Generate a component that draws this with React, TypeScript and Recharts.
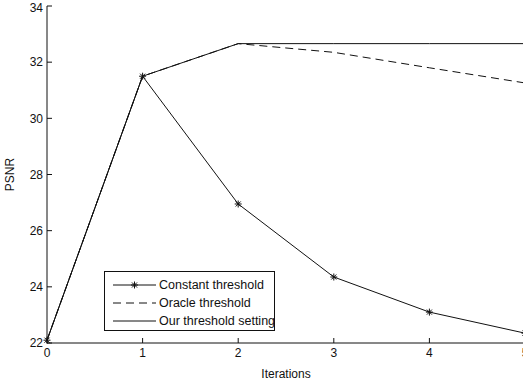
import React from 'react';
import { LineChart, Line, XAxis, YAxis } from 'recharts';

const iterations = [0, 1, 2, 3, 4, 5];
const constantThreshold = [22.1, 31.5, 26.95, 24.35, 23.1, 22.35];
const oracleThreshold = [22.1, 31.5, 32.66, 32.35, 31.8, 31.26];
const ourThreshold = [22.1, 31.5, 32.66, 32.66, 32.66, 32.66];
const xTicks = [0, 1, 2, 3, 4, 5];
const yTicks = [22, 24, 26, 28, 30, 32, 34];

const seriesNames = ['Constant threshold', 'Oracle threshold', 'Our threshold setting'];

const chartData = iterations.map((x, i) => ({
  x,
  constant: constantThreshold[i],
  oracle: oracleThreshold[i],
  ours: ourThreshold[i],
}));

const FONT = 'Liberation Sans, Arial, Helvetica, sans-serif';
const INK = '#111';

// asterisk marker like matlab's '*'
const Star = ({ cx, cy, r = 3.5 }: any) => {
  if (cx == null || cy == null) return null;
  const d = r * 0.72;
  return (
    <g stroke={INK} strokeWidth={1}>
      <line x1={cx - r} y1={cy} x2={cx + r} y2={cy} />
      <line x1={cx} y1={cy - r} x2={cx} y2={cy + r} />
      <line x1={cx - d} y1={cy - d} x2={cx + d} y2={cy + d} />
      <line x1={cx - d} y1={cy + d} x2={cx + d} y2={cy - d} />
    </g>
  );
};

// legend drawn as an overlay so it doesn't eat plot space
const LegendBox = () => {
  const rows = [
    { name: seriesNames[0], dash: undefined, star: true },
    { name: seriesNames[1], dash: '8 5', star: false },
    { name: seriesNames[2], dash: undefined, star: false },
  ];
  return (
    <div
      style={{
        position: 'absolute',
        left: 104,
        top: 271,
        width: 169,
        height: 54,
        border: `1px solid ${INK}`,
        background: '#fff',
        fontFamily: FONT,
        fontSize: 12.5,
        color: INK,
        paddingTop: 4,
        boxSizing: 'content-box',
      }}
    >
      {rows.map((r) => (
        <div key={r.name} style={{ display: 'flex', alignItems: 'center', height: 18, lineHeight: '18px' }}>
          <svg width={52} height={18} style={{ flex: 'none' }}>
            <line x1={8} y1={9} x2={51} y2={9} stroke={INK} strokeWidth={1} strokeDasharray={r.dash} />
            {r.star && <Star cx={29.5} cy={9} />}
          </svg>
          <span style={{ marginLeft: 2, whiteSpace: 'nowrap' }}>{r.name}</span>
        </div>
      ))}
    </div>
  );
};

const YLabel = ({ viewBox }: any) => {
  const x = viewBox.x + 10;
  const y = viewBox.y + viewBox.height / 2;
  return (
    <text
      x={x}
      y={y}
      transform={`rotate(-90 ${x} ${y})`}
      textAnchor="middle"
      dominantBaseline="central"
      fontFamily={FONT}
      fontSize={12}
      fill={INK}
    >
      PSNR
    </text>
  );
};

export default function App() {
  const tickStyle = { fill: INK, fontSize: 12, fontFamily: FONT };
  const axisLine = { stroke: INK, strokeWidth: 1 };
  return (
    <div style={{ position: 'absolute', left: 0, top: 0, width: 523, height: 381, overflow: 'hidden', background: '#fff' }}>
      <LineChart width={545} height={381} data={chartData} margin={{ top: 6, right: 0, left: 0, bottom: 0 }}>
        <XAxis
          dataKey="x"
          type="number"
          domain={[0, 5]}
          ticks={xTicks}
          height={38}
          tickSize={-5}
          tickMargin={10}
          tick={tickStyle}
          axisLine={axisLine}
          tickLine={axisLine}
          label={{ value: 'Iterations', position: 'insideBottom', offset: 3, fill: INK, fontSize: 12, fontFamily: FONT }}
        />
        <XAxis
          xAxisId="top"
          orientation="top"
          dataKey="x"
          type="number"
          domain={[0, 5]}
          ticks={xTicks}
          height={0}
          tickSize={-5}
          tickFormatter={() => ''}
          axisLine={axisLine}
          tickLine={axisLine}
        />
        <YAxis
          type="number"
          domain={[22, 34]}
          ticks={yTicks}
          width={47}
          tickSize={-5}
          tickMargin={9}
          tick={tickStyle}
          axisLine={axisLine}
          tickLine={axisLine}
          label={{ content: YLabel }}
        />
        <YAxis
          yAxisId="right"
          orientation="right"
          type="number"
          domain={[22, 34]}
          ticks={yTicks}
          width={20}
          tickSize={-5}
          tickFormatter={() => ''}
          axisLine={axisLine}
          tickLine={axisLine}
        />
        <Line
          dataKey="ours"
          name={seriesNames[2]}
          stroke={INK}
          strokeWidth={1}
          dot={false}
          activeDot={false}
          isAnimationActive={false}
        />
        <Line
          dataKey="oracle"
          name={seriesNames[1]}
          stroke={INK}
          strokeWidth={1}
          strokeDasharray="8 5"
          dot={false}
          activeDot={false}
          isAnimationActive={false}
        />
        <Line
          dataKey="constant"
          name={seriesNames[0]}
          stroke={INK}
          strokeWidth={1}
          dot={(p: any) => <Star key={p.index} cx={p.cx} cy={p.cy} />}
          activeDot={false}
          isAnimationActive={false}
        />
      </LineChart>
      <LegendBox />
    </div>
  );
}
